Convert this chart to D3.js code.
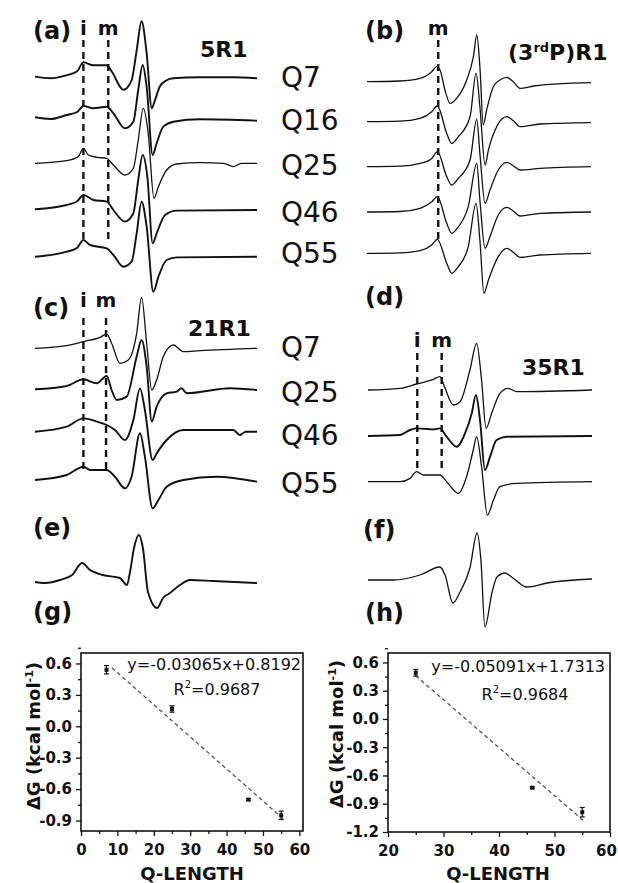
<!DOCTYPE html>
<html>
<head>
<meta charset="utf-8">
<script src="https://cdn.jsdelivr.net/npm/d3@7"></script>
<style>
  body { margin: 0; background: #fff; overflow: hidden; }
</style>
</head>
<body>
<div class="figure"></div>
<script>
// EPR spectra
// each point = [field (0-100 across the sweep), amplitude (up is +)]
const a_Q7  = [[0,0.7],[7,-1],[14,2],[19,6],[21.8,15],[26.3,12],[32.3,12],[34.5,6],[39.8,-12.5],[43.5,-3],[45.8,27],[48,56],[50.3,24],[52.6,-31],[54,-23],[56.3,-9],[59.3,-3],[62.3,-1],[74,0],[89,0],[100,-1]];
const a_Q16 = [[0,1.7],[7,0],[14.3,4],[19,7],[21.8,13],[26.3,10.7],[32.3,12.3],[35.3,5.7],[40.5,-9.3],[44.3,-2.7],[46.5,29],[48.5,54],[50.3,32],[53,-36],[54.8,-24.3],[57.8,-7.7],[62.3,-2.7],[74.3,-0.3],[100,-1.7]];
const a_Q25 = [[0,0],[14.3,2.7],[19.5,6.7],[21.8,15],[24,8.3],[28,6],[32.3,5],[35.3,-1.7],[40.5,-11.7],[44.3,-5],[46.5,23.3],[48.8,55],[51,30],[53.6,-35],[55.6,-23.3],[59.3,-6.7],[63.8,-0.7],[74.3,0.7],[85,0],[89.3,-3.3],[93,0],[100,0]];
const a_Q46 = [[0,0],[14.3,4.3],[19,8],[21.8,14.3],[26.3,9.3],[32.3,7.7],[35.3,-0.7],[40.5,-12.3],[44.3,-4],[46.5,29.3],[48.5,54.3],[50.6,32.7],[53,-34],[54.8,-24],[58.6,-5.7],[63.8,-1.3],[100,-0.7]];
const a_Q55 = [[0,0],[14.3,5],[19,9],[21.8,16.7],[24.8,11.7],[32.3,8.3],[35.3,1.7],[39.8,-10],[43.5,-5],[45.8,23.3],[48,55],[50.3,30],[53.3,-35],[55.6,-20],[59.3,-3.3],[63.8,-0.7],[100,0]];

const b_Q7  = [[0,0],[14.7,0.7],[23.7,3.3],[28.9,10],[31.1,15],[32.6,11.7],[34.8,-8.3],[37.1,-21.7],[40,-16.7],[44.5,1.7],[47.5,25],[49,46.7],[50.4,15],[51.9,-43.3],[53.4,-28.3],[56.4,-5],[59.4,1.7],[62.4,4.3],[65.3,0],[68.3,-6.7],[74.3,-4.3],[89.1,-1.7],[100,-1]];
const b_Q16 = [[0,0],[14.7,0.5],[23.7,3.3],[28.9,10],[31.4,15.7],[35.6,-11.7],[37.8,-21.7],[40.8,-15],[46,5],[48.7,48.3],[50.4,15],[52.7,-43.3],[54.2,-28.3],[57.9,-5],[62.4,5],[65.3,1],[68.3,-5],[77.2,-2.3],[100,-1]];
const b_Q25 = [[0,0],[14.7,0.5],[23.7,3.3],[28.9,8.3],[31.4,15],[35.6,-10],[37.8,-18.3],[40.8,-11.7],[46,6.7],[49,47.3],[50.4,13.3],[52.7,-36.7],[54.9,-23.3],[58.6,-3.3],[62.4,4.3],[65.3,1],[68.3,-3.3],[77.2,-1.7],[100,0]];
const b_Q46 = [[0,0],[14.7,0.5],[23.7,3.7],[28.9,10.3],[31.4,15.3],[35.6,-11.3],[37.8,-21.3],[40.8,-14.7],[45.2,5.3],[49,48.7],[50.4,12],[52.7,-36.3],[54.9,-24.7],[58.6,-3],[62.4,4.7],[65.3,1],[68.3,-4],[77.2,-1.3],[100,0]];
const b_Q55 = [[0,0],[14.7,0.5],[23.7,2.7],[28.9,8.3],[31.4,14],[35.6,-10],[37.8,-20],[40.8,-13.3],[45.2,6.7],[48.7,50],[50.4,13.3],[52.2,-40],[54.2,-26.7],[58.6,-3.3],[62.4,5],[65.3,1],[68.3,-4],[77.2,-1.7],[100,0]];

const c_Q7  = [[0,0],[14.3,2.7],[21.8,6.7],[29.3,11],[32.3,14.3],[34.5,5],[38.3,-15],[42,-11.7],[45.8,15],[48,51],[50.3,5],[52.6,-41.7],[54.8,-31.7],[57.8,-8.3],[62.3,3.3],[66.8,-3.3],[74.3,-2.3],[100,0]];
const c_Q25 = [[0,0],[14.3,3.3],[21.8,10],[27.8,6],[32.3,13.3],[34.5,-0.7],[36.8,-10.7],[41.3,-7.3],[45.8,32.7],[48,49.3],[50.3,22.7],[52.6,-32.3],[54.8,-17.3],[59.3,-4],[63.8,-2.3],[66,1],[68.3,-4],[87.8,1],[100,-0.7]];
const c_Q46 = [[0,0],[14.3,5],[21.8,13.3],[29.3,9],[32.3,6.7],[36,1.7],[40.5,-8.3],[44.3,11.7],[47.3,43.3],[49.5,21.7],[53,-28.3],[54.8,-21.7],[59.3,-8.3],[66.8,1.7],[89.3,1.7],[92.3,-3.3],[95,0],[100,0]];
const c_Q55 = [[0,0],[14.3,5],[21.8,13.3],[24.8,10],[32.3,10],[36,3.3],[40.5,-8.3],[43.5,3.3],[47.3,46.7],[49.5,23.3],[53,-28.3],[55.6,-20],[59.3,-6.7],[66.8,0],[81.8,3.3],[100,-1.7]];

const d_Q25 = [[0,0],[14.3,1.7],[21.7,6],[29.2,10.7],[32.1,13.3],[34.4,1.7],[38.1,-15],[41.1,-11.7],[45.5,20],[48.5,46.7],[50.7,10],[52.7,-38.3],[55.2,-23.3],[58.9,-3.3],[62.6,1.7],[66.4,-1.7],[100,0]];
const d_Q46 = [[0,0.7],[14.3,1.7],[18.8,6.7],[21.7,8.3],[29.2,7.3],[32.1,8.3],[35.1,0],[39.6,-10],[43.3,3.3],[46.3,23.3],[48.2,41.7],[50,16.7],[52.2,-33.3],[54.5,-20],[57.4,-3.3],[61.9,0],[100,0.7]];
const d_Q55 = [[0,0],[14.3,0],[18.8,3.3],[21.7,10],[24.7,6.7],[32.1,6.7],[35.1,0],[40.3,-11.7],[44,5],[47,31.7],[48.5,45],[50.7,15],[53.3,-33.3],[56,-18.3],[58.9,-5],[66.4,-1.7],[100,0]];

const e_trace = [[0,0],[4.5,-1],[11.3,2],[16.7,7],[21.2,19],[24.8,12],[30.6,7],[38.3,4],[41.4,-3],[42.8,10],[44.6,34],[46.8,47],[48.6,34],[50.9,-10],[55,-26],[57.7,-16],[60.8,-11],[65.3,-3],[69.8,2],[80.2,1],[100,-1]];
const f_trace = [[0,0],[11.2,0],[23.2,5],[32.1,13],[34.4,5],[37.9,-23],[41.1,-12],[45.5,12],[48.7,47],[50.4,20],[52.2,-47],[55.4,-12],[57.6,3],[61.2,7],[64.7,2],[71,-7],[79.9,-3],[100,1]];

// dashed i / m markers (field units)
const a_marks = [['i', 21.8], ['m', 33]];
const b_marks = [['m', 31.8]];
const c_marks = [['i', 21.8], ['m', 32]];
const d_marks = [['i', 22], ['m', 32.9]];

// free energy vs Q-length
const g_qlen = [7, 25, 46, 55];
const g_dg   = [0.54, 0.165, -0.70, -0.85];
const g_err  = [0.04, 0.03, 0.01, 0.04];
const g_fit  = [-0.03065, 0.8192];
const g_r2   = 0.9687;
const h_qlen = [25, 46, 55];
const h_dg   = [0.49, -0.73, -0.99];
const h_err  = [0.035, 0.01, 0.05];
const h_fit  = [-0.05091, 1.7313];
const h_r2   = 0.9684;
const g_xticks = [0, 10, 20, 30, 40, 50, 60];
const g_yticks = [-0.9, -0.6, -0.3, 0.0, 0.3, 0.6];
const h_xticks = [20, 30, 40, 50, 60];
const h_yticks = [-1.2, -0.9, -0.6, -0.3, 0.0, 0.3, 0.6];

const BOLD = 'DejaVu Sans, Verdana, sans-serif';
const REG = 'DejaVu Sans, Arial, sans-serif';

const svg = d3.select('.figure')
    .append('svg')
    .attr('width', 618)
    .attr('height', 883);

function add_text(txt, x, y, size, opts = {}){
    return svg.append('text')
        .attr('x', x)
        .attr('y', y)
        .attr('font-family', opts.bold === false ? REG : BOLD)
        .attr('font-weight', opts.bold === false ? 'normal' : 'bold')
        .attr('font-size', size)
        .attr('text-anchor', opts.anchor || 'start')
        .attr('fill', '#111')
        .text(txt);
}

// ---------- spectra panels ----------
const panels = [
    {name: '(a)', nx: 33, ny: 39, title: '5R1', tx: 200, ty: 57, x0: 35, x1: 257,
     traces: [a_Q7, a_Q16, a_Q25, a_Q46, a_Q55], bases: [77.3, 119, 163.3, 209.3, 256.7],
     noisy: [true, true, false, true, true],
     marks: a_marks, mark_top: 40, mark_bottom: 240, mark_label_y: 35},
    {name: '(b)', nx: 365, ny: 39, x0: 367, x1: 591,
     traces: [b_Q7, b_Q16, b_Q25, b_Q46, b_Q55], bases: [81.7, 121.7, 166.7, 212, 253.3],
     noisy: [false, false, false, false, false],
     marks: b_marks, mark_top: 40, mark_bottom: 240, mark_label_y: 35},
    {name: '(c)', nx: 33, ny: 316, title: '21R1', tx: 188, ty: 336, x0: 35, x1: 257,
     traces: [c_Q7, c_Q25, c_Q46, c_Q55], bases: [348.3, 389.3, 431.7, 480],
     noisy: [false, true, true, true],
     marks: c_marks, mark_top: 318, mark_bottom: 470, mark_label_y: 307},
    {name: '(d)', nx: 365, ny: 305, title: '35R1', tx: 522, ty: 375, x0: 368, x1: 592,
     traces: [d_Q25, d_Q46, d_Q55], bases: [390, 436.7, 481.7],
     noisy: [false, true, false],
     marks: d_marks, mark_top: 353, mark_bottom: 470, mark_label_y: 347},
    {name: '(e)', nx: 33, ny: 536, x0: 35, x1: 257,
     traces: [e_trace], bases: [582], noisy: [true], marks: []},
    {name: '(f)', nx: 363, ny: 538, x0: 368, x1: 592,
     traces: [f_trace], bases: [580], noisy: [false], marks: []}
];

function draw_spectra(p){
    const x_scale = d3.scaleLinear().domain([0, 100]).range([p.x0, p.x1]);
    p.traces.forEach((trace, i) => {
        const y_scale = d3.scaleLinear().domain([0, 1]).range([p.bases[i], p.bases[i] - 1]);
        const line = d3.line()
            .x(d => x_scale(d[0]))
            .y(d => y_scale(d[1]))
            .curve(d3.curveMonotoneX);
        svg.append('path')
            .datum(trace)
            .attr('d', line)
            .attr('fill', 'none')
            .attr('stroke', '#111')
            .attr('stroke-width', p.noisy[i] ? 1.9 : 1.3)
            .attr('stroke-linejoin', 'round');
    });
    // dashed markers
    p.marks.forEach(m => {
        svg.append('line')
            .attr('x1', x_scale(m[1])).attr('x2', x_scale(m[1]))
            .attr('y1', p.mark_top).attr('y2', p.mark_bottom)
            .attr('stroke', '#111')
            .attr('stroke-width', 2.4)
            .attr('stroke-dasharray', '7,5');
        add_text(m[0], x_scale(m[1]), p.mark_label_y, 20, {anchor: 'middle'});
    });
    add_text(p.name, p.nx, p.ny, 24);
    if(p.title) add_text(p.title, p.tx, p.ty, 22);
}

panels.forEach(draw_spectra);

// (3rdP)R1 with superscript
const b_title = add_text('(3', 508, 60, 22);
b_title.append('tspan').attr('font-size', 13).attr('dy', -8).text('rd');
b_title.append('tspan').attr('dy', 8).text('P)R1');

// Q-length labels
const q_labels_top = ['Q7', 'Q16', 'Q25', 'Q46', 'Q55'];
const q_labels_mid = ['Q7', 'Q25', 'Q46', 'Q55'];
[87, 130, 175, 222, 263].forEach((y, i) => add_text(q_labels_top[i], 281, y, 28, {bold: false}));
[357, 402, 445, 493].forEach((y, i) => add_text(q_labels_mid[i], 281, y, 28, {bold: false}));

// ---------- dG vs Q-length ----------
function draw_dg_plot(cfg){
    const x_scale = d3.scaleLinear().domain(cfg.x_domain).range([cfg.left, cfg.right]);
    const y_scale = d3.scaleLinear().domain(cfg.y_domain).range([cfg.bottom, cfg.top]);
    const g = svg.append('g').attr('class', 'dg-plot');
    const fmt_y = d => d3.format('.1f')(d).replace('\u2212', '-');

    const mid = arr => arr.slice(1).map((d, i) => (d + arr[i]) / 2);
    const x_minor = mid(cfg.x_ticks);
    const y_minor = mid(cfg.y_ticks).concat([cfg.y_ticks[cfg.y_ticks.length - 1] + 0.15]);

    const x_axis = g.append('g')
        .attr('transform', `translate(0, ${cfg.bottom})`)
        .call(d3.axisBottom(x_scale).tickValues(cfg.x_ticks).tickSize(5).tickPadding(8).tickSizeOuter(0).tickFormat(d3.format('d')));
    g.append('g')
        .attr('transform', `translate(0, ${cfg.bottom})`)
        .call(d3.axisBottom(x_scale).tickValues(x_minor).tickSize(3).tickSizeOuter(0).tickFormat(''));
    const y_axis = g.append('g')
        .attr('transform', `translate(${cfg.left}, 0)`)
        .call(d3.axisLeft(y_scale).tickValues(cfg.y_ticks).tickSize(5).tickPadding(4).tickSizeOuter(0).tickFormat(fmt_y));
    g.append('g')
        .attr('transform', `translate(${cfg.left}, 0)`)
        .call(d3.axisLeft(y_scale).tickValues(y_minor).tickSize(3).tickSizeOuter(0).tickFormat(''));

    g.selectAll('.domain').remove();
    g.selectAll('.tick line').attr('stroke', '#111').attr('stroke-width', 1.3);
    [x_axis, y_axis].forEach(ax => ax.selectAll('text')
        .attr('font-family', BOLD)
        .attr('font-weight', 'bold')
        .attr('font-size', 15)
        .attr('fill', '#111'));
    // keep the last x label inside the page
    x_axis.selectAll('.tick:last-of-type text').attr('dx', cfg.last_dx || 0);

    g.append('rect')
        .attr('x', cfg.left).attr('y', cfg.top)
        .attr('width', cfg.right - cfg.left).attr('height', cfg.bottom - cfg.top)
        .attr('fill', 'none').attr('stroke', '#111').attr('stroke-width', 1.6);

    // fitted line
    const fit_line = d3.line().x(d => x_scale(d)).y(d => y_scale(cfg.fit[0] * d + cfg.fit[1]));
    g.append('path')
        .datum(cfg.fit_range)
        .attr('d', fit_line)
        .attr('fill', 'none')
        .attr('stroke', '#555')
        .attr('stroke-width', 1.3)
        .attr('stroke-dasharray', '4,3');

    // error bars + points
    const pts = cfg.qlen.map((q, i) => ({q: q, dg: cfg.dg[i], err: cfg.err[i]}));
    const bars = g.selectAll('.err').data(pts).enter().append('g').attr('class', 'err');
    bars.append('line')
        .attr('x1', d => x_scale(d.q)).attr('x2', d => x_scale(d.q))
        .attr('y1', d => y_scale(d.dg + d.err)).attr('y2', d => y_scale(d.dg - d.err))
        .attr('stroke', '#111').attr('stroke-width', 1.2);
    [1, -1].forEach(s => bars.append('line')
        .attr('x1', d => x_scale(d.q) - 2.5).attr('x2', d => x_scale(d.q) + 2.5)
        .attr('y1', d => y_scale(d.dg + s * d.err)).attr('y2', d => y_scale(d.dg + s * d.err))
        .attr('stroke', '#111').attr('stroke-width', 1.2));
    bars.append('rect')
        .attr('x', d => x_scale(d.q) - 2).attr('y', d => y_scale(d.dg) - 2)
        .attr('width', 4).attr('height', 4)
        .attr('fill', '#111');

    // equation text
    add_text(`y=${cfg.fit[0]}x+${cfg.fit[1]}`, cfg.eq_x, cfg.eq_y, 16, {bold: false, anchor: 'end'});
    const r2 = add_text('R', cfg.r2_x, cfg.r2_y, 16, {bold: false, anchor: 'middle'});
    r2.append('tspan').attr('font-size', 10).attr('dy', -7).text('2');
    r2.append('tspan').attr('dy', 7).text(`=${cfg.r2}`);

    // axis titles
    add_text('Q-LENGTH', cfg.xt_x, 880, 18, {anchor: 'middle'});
    const yt = svg.append('text')
        .attr('transform', `translate(${cfg.yt_x}, ${cfg.yt_y}) rotate(-90)`)
        .attr('text-anchor', 'middle')
        .attr('font-family', BOLD)
        .attr('font-weight', 'bold')
        .attr('font-size', 18)
        .attr('fill', '#111')
        .text('\u0394G (kcal mol');
    yt.append('tspan').attr('font-size', 11).attr('dy', -7).text('-1');
    yt.append('tspan').attr('dy', 7).text(')');
}

draw_dg_plot({
    left: 81, right: 303, top: 653, bottom: 831,
    x_domain: [0, 61], y_domain: [-1.0, 0.7],
    x_ticks: g_xticks, y_ticks: g_yticks,
    qlen: g_qlen, dg: g_dg, err: g_err,
    fit: g_fit, fit_range: [8.5, 56], r2: g_r2,
    eq_x: 301, eq_y: 670, r2_x: 217, r2_y: 695,
    xt_x: 192, yt_x: 40, yt_y: 736
});
draw_dg_plot({
    left: 388, right: 610, top: 653, bottom: 832,
    x_domain: [20, 60], y_domain: [-1.2, 0.7],
    x_ticks: h_xticks, y_ticks: h_yticks,
    qlen: h_qlen, dg: h_dg, err: h_err,
    fit: h_fit, fit_range: [25, 55.5], r2: h_r2,
    eq_x: 605, eq_y: 672, r2_x: 525, r2_y: 700,
    xt_x: 498, yt_x: 343, yt_y: 734, last_dx: -4
});
add_text('(g)', 33, 620, 24);
add_text('(h)', 365, 621, 24);
</script>
</body>
</html>
